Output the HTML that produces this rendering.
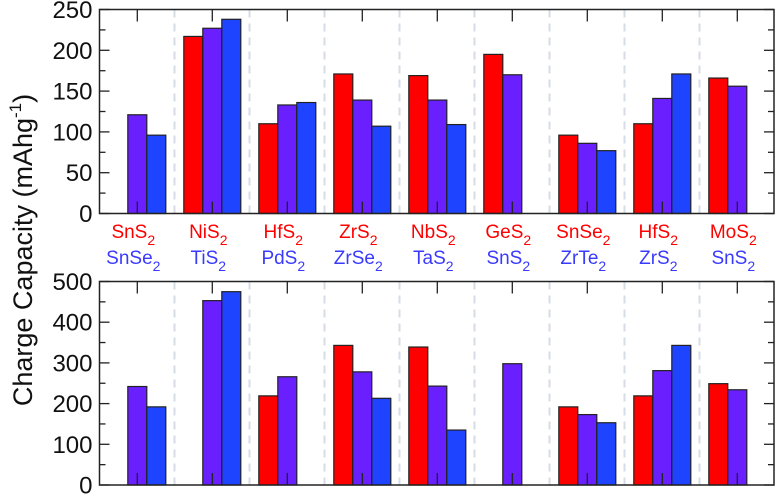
<!DOCTYPE html>
<html><head><meta charset="utf-8"><style>
body{margin:0;background:#fff;}
svg{display:block;font-family:"Liberation Sans",Arial,sans-serif;}
</style></head><body>
<svg id="c" width="776" height="495" viewBox="0 0 776 495"></svg>
<script>
const groupsTop = [["SnS","SnSe"],["NiS","TiS"],["HfS","PdS"],["ZrS","ZrSe"],["NbS","TaS"],["GeS","SnS"],["SnSe","ZrTe"],["HfS","ZrS"],["MoS","SnS"]];
const topRed    = [null,217,110,171,169,195,96,110,166];
const topPurple = [121,227,133,139,139,170,86,141,156];
const topBlue   = [96,238,136,107,109,null,77,171,null];
const botRed    = [null,null,219,343,339,null,192,219,249];
const botPurple = [242,453,266,278,243,298,173,281,234];
const botBlue   = [192,475,null,213,135,null,153,343,null];
const topTicks = [0,50,100,150,200,250];
const botTicks = [0,100,200,300,400,500];

const NS="http://www.w3.org/2000/svg", svg=document.getElementById('c');
function el(t,a,p){const e=document.createElementNS(NS,t);for(const k in a)e.setAttribute(k,a[k]);(p||svg).appendChild(e);return e;}
const X0=99.5,X1=774,GW=75,BW=19;
const gx=i=>X0+37.8+i*GW;
const colors=["#ff0000","#6a1fff","#1f44ff"];
function panel(name,yTop,yBot,max,ticks,series){
  const y=v=>yBot-(v/max)*(yBot-yTop);
  const g=el('g',{});
  
  
  for(let i=1;i<9;i++){
    const l=el('line',{x1:X0+i*GW,x2:X0+i*GW,y1:yTop,y2:yBot,stroke:"#d6dde6","stroke-width":2,"stroke-dasharray":"8,6"},g);
    
    
  }
  series.forEach((s,si)=>{
    s.forEach((v,i)=>{
      if(v==null)return;
      const r=el('rect',{x:gx(i)+(si-1)*BW-BW/2,y:y(v),width:BW,height:yBot-y(v),fill:colors[si],stroke:"#222","stroke-width":1.2},g);
      
      
    });
  });
  const step=ticks[1]-ticks[0];
  for(let v=0;v<=max;v+=step/2){
    const major=(v%step)===0, L=major?10:6;
    el('line',{x1:X0,x2:X0+L,y1:y(v),y2:y(v),stroke:"#222","stroke-width":1.3},g);
    el('line',{x1:X1-L,x2:X1,y1:y(v),y2:y(v),stroke:"#222","stroke-width":1.3},g);
  }
  ticks.forEach(v=>{
    const t=el('text',{x:X0-7,y:y(v)+8.5,"text-anchor":"end","font-size":24,fill:"#111"},g);
    t.textContent=v;
    
    
  });
  for(let i=0;i<9;i++){
    el('line',{x1:gx(i),x2:gx(i),y1:yTop,y2:yTop+12,stroke:"#222","stroke-width":1.3},g);
    el('line',{x1:gx(i),x2:gx(i),y1:yBot,y2:yBot-12,stroke:"#222","stroke-width":1.3},g);
  }
  const f=el('rect',{x:X0,y:yTop,width:X1-X0,height:yBot-yTop,fill:"none",stroke:"#222","stroke-width":1.5},g);
  
  
}
panel('top-panel',9.5,213.5,250,topTicks,[topRed,topPurple,topBlue]);
panel('bottom-panel',281.5,485,500,botTicks,[botRed,botPurple,botBlue]);
groupsTop.forEach((g,i)=>{
  [[g[0],"#ff0000",238],[g[1],"#3a3aff",264]].forEach(([s,c,yy],k)=>{
    const t=el('text',{x:gx(i)-4,y:yy,"text-anchor":"middle","font-size":19,fill:c});
    
    
    t.appendChild(document.createTextNode(s));
    const sub=el('tspan',{dy:7,"font-size":14},t);sub.textContent="2";
  });
});
const yt=el('text',{transform:"translate(32,250) rotate(-90)","text-anchor":"middle","font-size":27,fill:"#111"});


yt.setAttribute('xml:space','preserve');
yt.appendChild(document.createTextNode("Charge Capacity  (mAhg"));
const sp=el('tspan',{dy:-11,"font-size":17},yt);sp.textContent="-1";
const cp=el('tspan',{dy:11},yt);cp.textContent=")";
</script>
</body></html>
